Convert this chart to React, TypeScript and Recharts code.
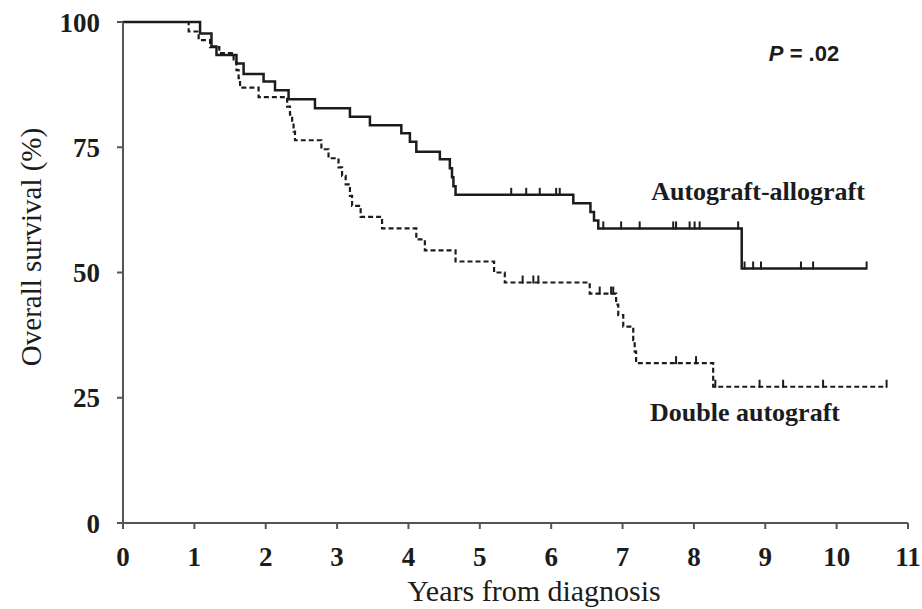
import {
  ComposedChart,
  Line,
  Scatter,
  XAxis,
  YAxis,
} from "recharts";

// Kaplan-Meier step data: event times (years) and survival (%) after each event
const alloTimes = [0, 1.08, 1.24, 1.31, 1.59, 1.69, 1.97, 2.13, 2.32, 2.69, 3.18, 3.46, 3.9, 4.02, 4.11, 4.44, 4.58, 4.61, 4.63, 4.66, 6.31, 6.55, 6.6, 6.66, 8.67, 10.42];
const alloSurvival = [100, 97.7, 95.1, 93.4, 91.7, 89.6, 88.1, 86.4, 84.6, 82.8, 81.1, 79.4, 77.8, 76.1, 74.1, 72.6, 70.8, 69.0, 67.2, 65.5, 63.8, 62.1, 60.4, 58.8, 50.8, 50.8];
const alloCensored = [5.44, 5.65, 5.84, 6.07, 6.12, 6.73, 6.98, 7.24, 7.71, 7.75, 7.94, 8.01, 8.08, 8.62, 8.71, 8.83, 8.94, 9.5, 9.67, 10.42];

const doubleTimes = [0, 0.92, 1.06, 1.22, 1.35, 1.55, 1.59, 1.62, 1.64, 1.9, 2.3, 2.34, 2.37, 2.39, 2.41, 2.78, 2.88, 3.02, 3.07, 3.12, 3.18, 3.21, 3.33, 3.63, 4.11, 4.23, 4.66, 5.2, 5.35, 6.54, 6.91, 6.94, 7.01, 7.15, 7.17, 7.19, 8.27, 10.7];
const doubleSurvival = [100, 98.1, 96.4, 95.0, 93.8, 92.0, 90.4, 88.8, 86.9, 85.0, 83.1, 81.5, 79.8, 78.1, 76.4, 74.6, 72.8, 71.0, 69.3, 67.6, 65.3, 63.3, 61.1, 58.8, 56.6, 54.4, 52.2, 50.0, 48.0, 45.8, 43.6, 41.5, 39.2, 36.5, 34.2, 31.9, 27.2, 27.2];
const doubleCensored = [5.6, 5.75, 5.82, 6.68, 6.84, 6.87, 7.75, 8.03, 8.3, 8.92, 9.25, 9.81, 10.7];

const xTicks = [0, 1, 2, 3, 4, 5, 6, 7, 8, 9, 10, 11];
const yTicks = [0, 25, 50, 75, 100];

const toSteps = (times: number[], surv: number[]) =>
  times.map((t, i) => ({ t, s: surv[i] }));

// survival level of the step curve at time t (for placing censor marks)
const levelAt = (times: number[], surv: number[], t: number) => {
  let v = surv[0];
  for (let i = 0; i < times.length; i++) {
    if (times[i] <= t) v = surv[i];
  }
  return v;
};

const toCensor = (cens: number[], times: number[], surv: number[]) =>
  cens.map((t) => ({ t, s: levelAt(times, surv, t) }));

const alloData = toSteps(alloTimes, alloSurvival);
const doubleData = toSteps(doubleTimes, doubleSurvival);
const alloCensor = toCensor(alloCensored, alloTimes, alloSurvival);
const doubleCensor = toCensor(doubleCensored, doubleTimes, doubleSurvival);

const INK = "#1c1c1c";
const serif = "'Liberation Serif', 'Times New Roman', serif";
const tickStyle = { fontFamily: serif, fontWeight: 700, fontSize: 27, fill: INK };

const CensorMark = (props: any) => {
  const { cx, cy } = props;
  if (cx == null || cy == null) return <g />;
  return <line x1={cx} y1={cy - 7} x2={cx} y2={cy + 1} stroke={INK} strokeWidth={2} />;
};

export default function App() {
  return (
    <div style={{ position: "absolute", left: 0, top: 0, background: "#fff" }}>
      <ComposedChart width={922} height={609} margin={{ top: 22, right: 14, bottom: 0, left: 0 }}>
        <XAxis
          type="number"
          dataKey="t"
          domain={[0, 11]}
          ticks={xTicks}
          interval={0}
          height={86}
          tick={tickStyle}
          tickSize={6}
          tickMargin={18}
          axisLine={{ stroke: "#555", strokeWidth: 2 }}
          tickLine={{ stroke: "#555", strokeWidth: 2 }}
        />
        <YAxis
          type="number"
          dataKey="s"
          domain={[0, 100]}
          ticks={yTicks}
          interval={0}
          width={123}
          tick={tickStyle}
          tickSize={6}
          tickMargin={17}
          axisLine={{ stroke: "#555", strokeWidth: 2 }}
          tickLine={{ stroke: "#555", strokeWidth: 2 }}
        />
        <Line
          data={doubleData}
          dataKey="s"
          type="stepAfter"
          stroke={INK}
          strokeWidth={2.2}
          strokeDasharray="5 3"
          dot={false}
          isAnimationActive={false}
        />
        <Line
          data={alloData}
          dataKey="s"
          type="stepAfter"
          stroke={INK}
          strokeWidth={2.5}
          dot={false}
          isAnimationActive={false}
        />
        <Scatter data={doubleCensor} dataKey="s" shape={CensorMark} isAnimationActive={false} />
        <Scatter data={alloCensor} dataKey="s" shape={CensorMark} isAnimationActive={false} />
        <text
          x={31}
          y={247}
          transform="rotate(-90 31 247)"
          textAnchor="middle"
          dominantBaseline="central"
          style={{ fontFamily: serif, fontSize: 29, fill: INK }}
        >
          Overall survival (%)
        </text>
        <text
          x={534}
          y={601}
          textAnchor="middle"
          style={{ fontFamily: serif, fontSize: 30, fill: INK }}
        >
          Years from diagnosis
        </text>
        <text
          x={758}
          y={200}
          textAnchor="middle"
          style={{ fontFamily: serif, fontWeight: 700, fontSize: 26, fill: INK }}
        >
          Autograft-allograft
        </text>
        <text
          x={745}
          y={421}
          textAnchor="middle"
          style={{ fontFamily: serif, fontWeight: 700, fontSize: 26, fill: INK }}
        >
          Double autograft
        </text>
        <text
          x={804}
          y={61}
          textAnchor="middle"
          style={{ fontFamily: "'Liberation Sans', Arial, sans-serif", fontWeight: 700, fontSize: 22, fill: INK }}
        >
          <tspan fontStyle="italic">P</tspan> = .02
        </text>
      </ComposedChart>
    </div>
  );
}
